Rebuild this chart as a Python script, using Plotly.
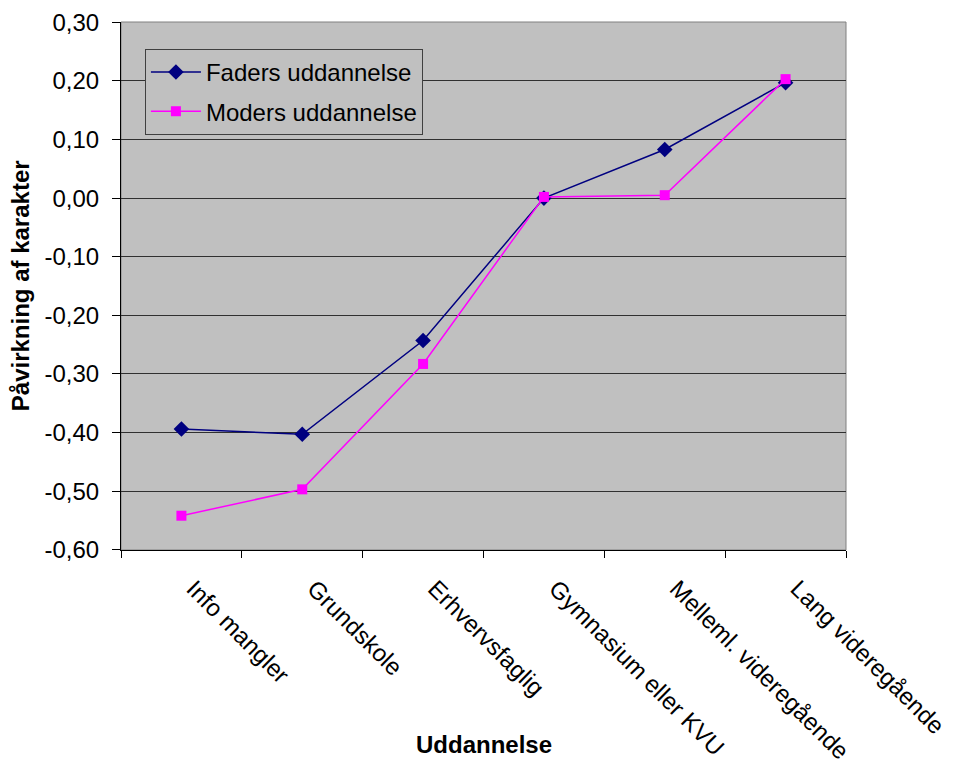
import plotly.graph_objects as go

categories = ["Info mangler", "Grundskole", "Erhvervsfaglig", "Gymnasium eller KVU",
              "Melleml. videregående", "Lang videregående"]
faders = [-0.394, -0.403, -0.243, 0.0, 0.083, 0.197]
moders = [-0.542, -0.497, -0.283, 0.002, 0.005, 0.203]
y_tickvals = [0.3, 0.2, 0.1, 0.0, -0.1, -0.2, -0.3, -0.4, -0.5, -0.6]
y_ticktext = ["0,30", "0,20", "0,10", "0,00", "-0,10", "-0,20", "-0,30", "-0,40", "-0,50", "-0,60"]

FONT = "Liberation Sans, Arial, sans-serif"

fig = go.Figure()
fig.add_trace(go.Scatter(
    x=categories, y=faders, name="Faders uddannelse", mode="lines+markers",
    legendgroup="f",
    line=dict(color="#000080", width=1.5),
    marker=dict(symbol="diamond", size=12, color="#000080")))
fig.add_trace(go.Scatter(
    x=categories, y=moders, name="Moders uddannelse", mode="lines+markers",
    legendgroup="m",
    line=dict(color="#FF00FF", width=1.5),
    marker=dict(symbol="square", size=10, color="#FF00FF")))

fig.update_layout(
    width=953, height=766,
    margin=dict(l=113, r=115, t=14, b=224, autoexpand=False),
    paper_bgcolor="white", plot_bgcolor="#C0C0C0",
    font=dict(family=FONT, size=24, color="black"),
    showlegend=True,
    legend=dict(x=0.033, y=0.949, xanchor="left", yanchor="top",
                bgcolor="#C0C0C0", bordercolor="#404040", borderwidth=1,
                font=dict(family=FONT, size=24, color="black"),
                traceorder="grouped", tracegroupgap=5, itemwidth=50),
    xaxis=dict(type="category", range=[-0.5, 5.5], tickson="boundaries",
               ticks="outside", ticklen=7, tickcolor="black", tickangle=45,
               ticklabelstandoff=14, ticklabelshift=12, automargin=False,
               showline=True, linecolor="black", linewidth=1, mirror=False,
               showgrid=False, tickfont=dict(family=FONT, size=24)),
    yaxis=dict(range=[-0.6005, 0.3005], tickvals=y_tickvals, ticktext=y_ticktext,
               ticks="outside", ticklen=8, tickcolor="black",
               ticklabelstandoff=8, automargin=False,
               showline=True, linecolor="black", linewidth=1,
               showgrid=True, gridcolor="#303030", gridwidth=1.2,
               zeroline=False, tickfont=dict(family=FONT, size=24)),
    shapes=[dict(type="rect", xref="paper", yref="paper", x0=0, x1=1, y0=0, y1=1,
                 line=dict(color="#808080", width=1), layer="below")],
    annotations=[
        dict(text="<b>Uddannelse</b>", xref="paper", yref="paper", x=0.5, y=-0.369,
             xanchor="center", yanchor="middle", showarrow=False,
             font=dict(family=FONT, size=24, color="black")),
        dict(text="<b>Påvirkning af karakter</b>", xref="paper", yref="paper",
             x=-0.139, y=0.5, xanchor="center", yanchor="middle", textangle=-90,
             showarrow=False, font=dict(family=FONT, size=24, color="black")),
    ],
)

fig.write_html("out.html")
